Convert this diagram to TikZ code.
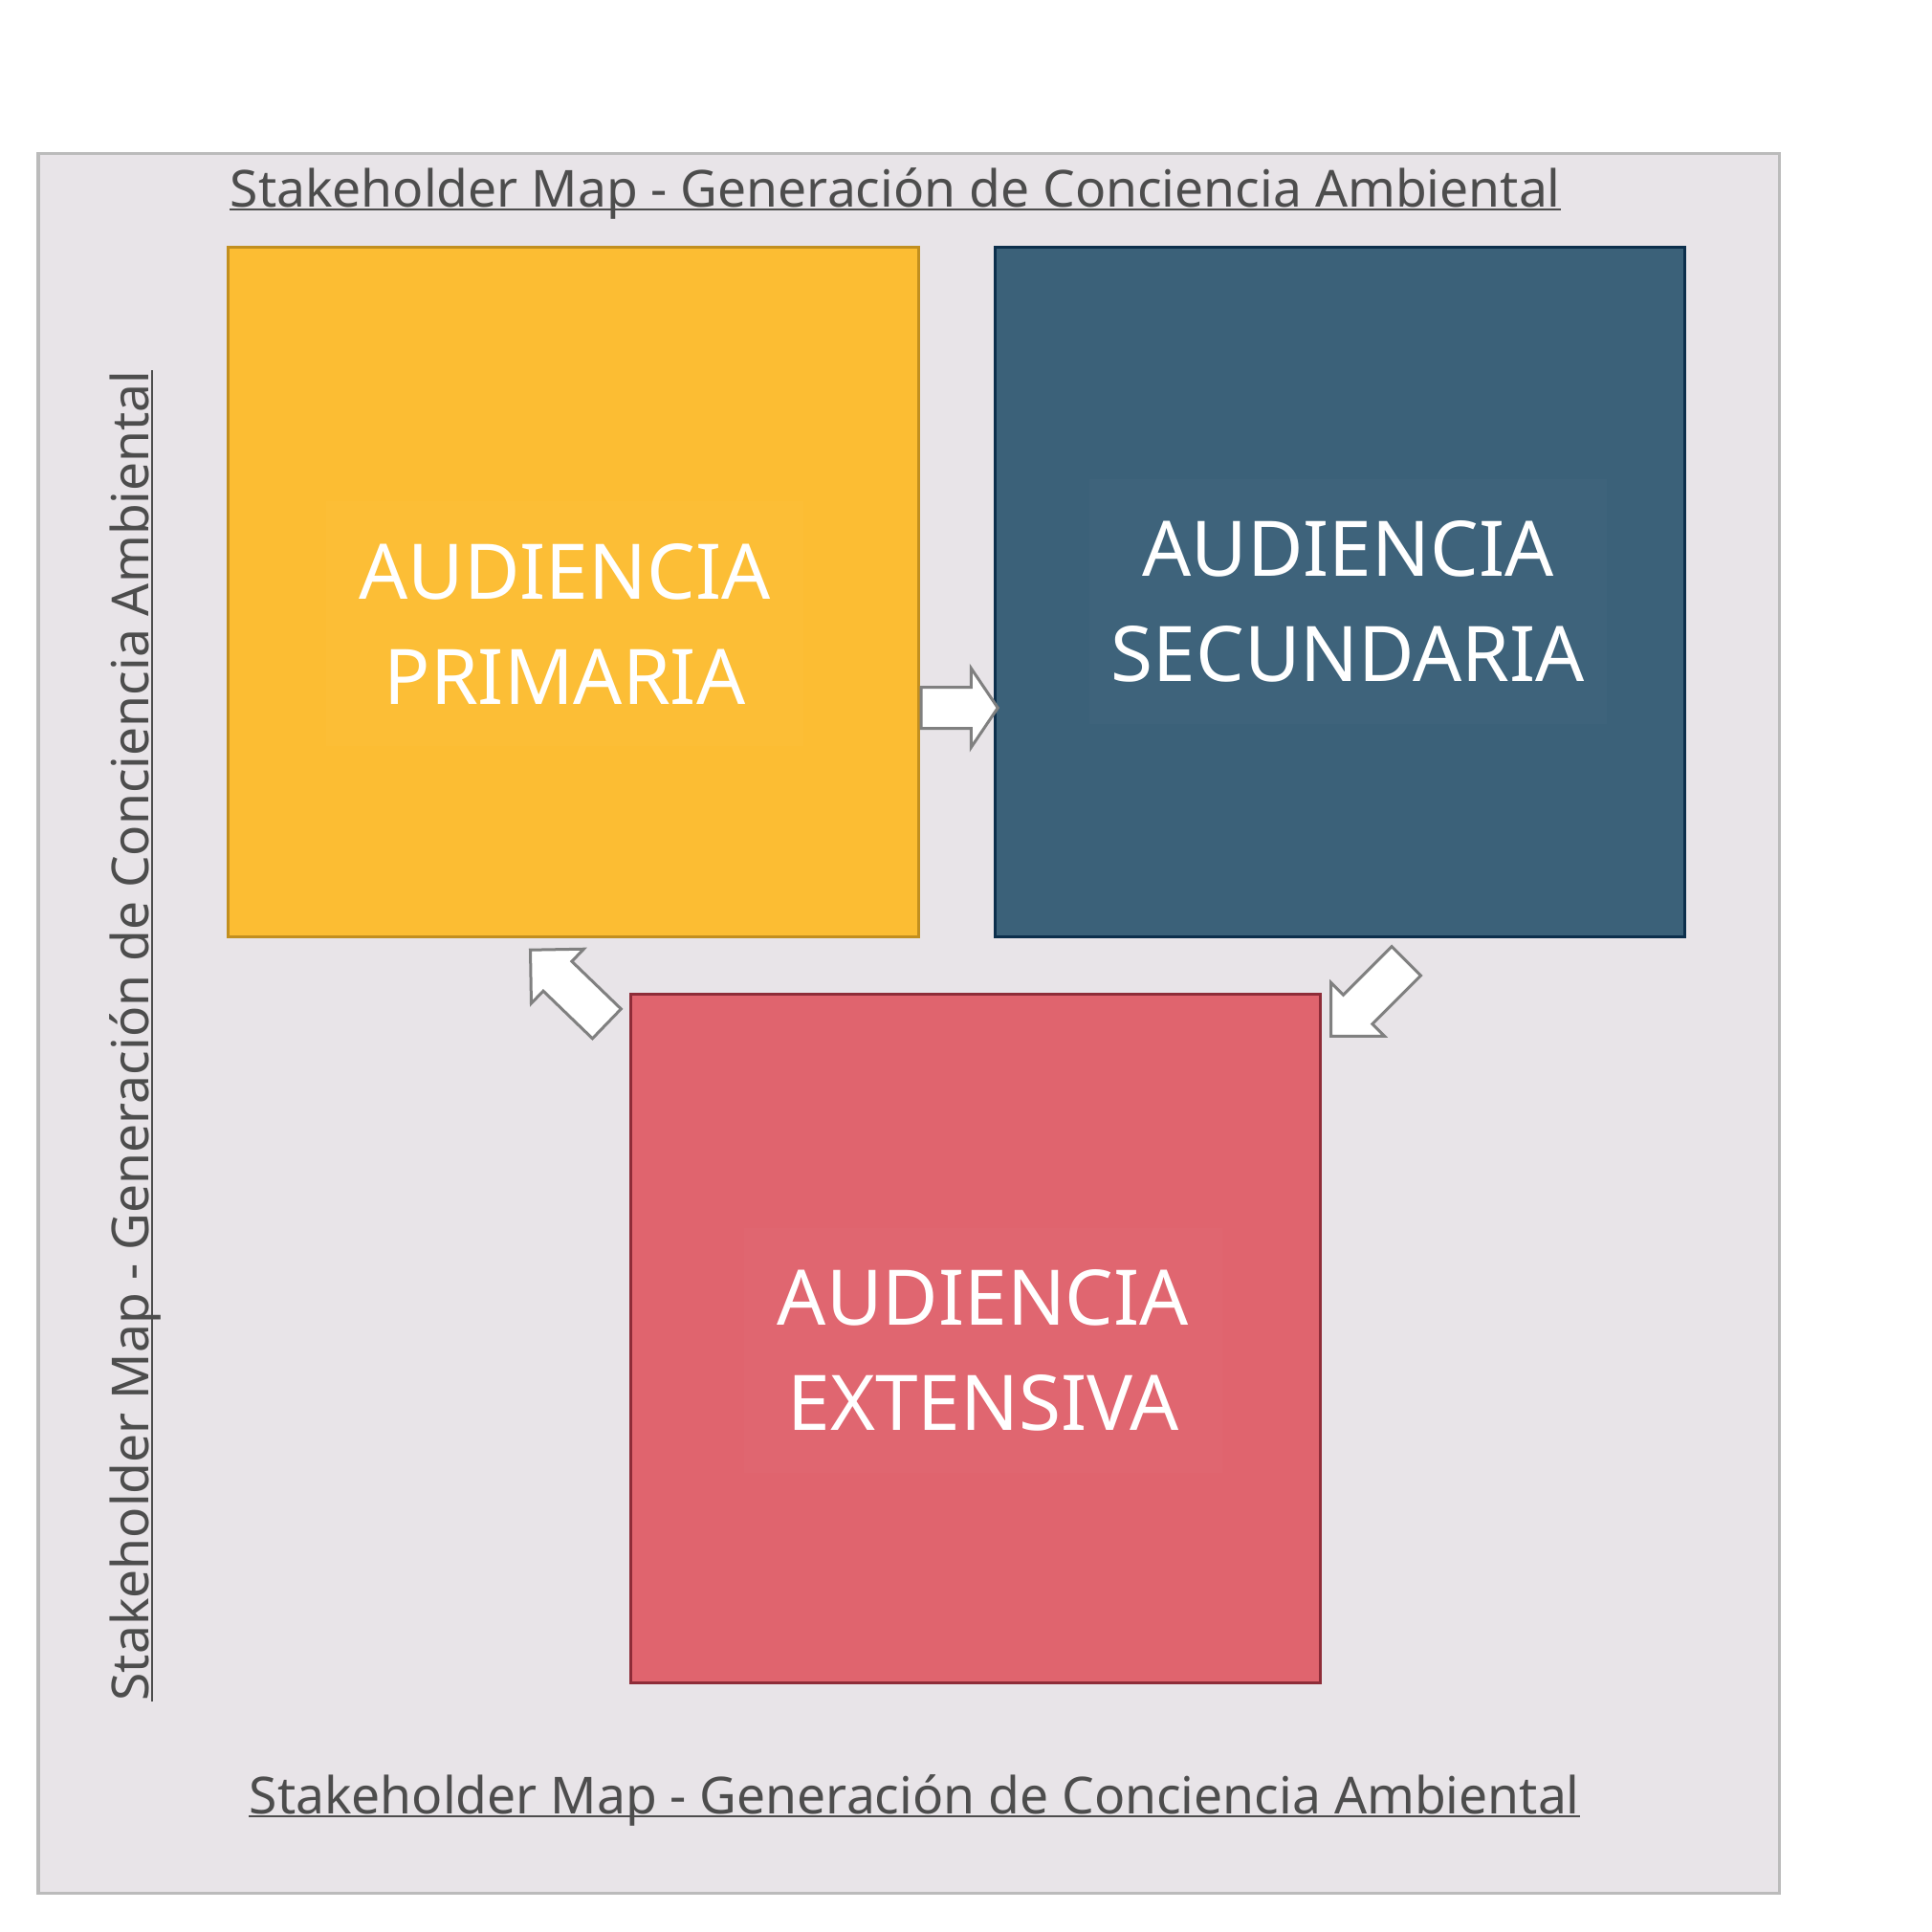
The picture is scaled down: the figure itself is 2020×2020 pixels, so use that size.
\documentclass[tikz,border=0pt]{standalone}
\usepackage{fontspec}
\setmainfont{Noto Sans}
\usetikzlibrary{shapes.arrows, positioning}

\definecolor{fondo}{HTML}{E8E4E8}
\definecolor{marcogris}{HTML}{BBBBBB}
\definecolor{tinta}{HTML}{4D4D4D}
\definecolor{amarillo}{HTML}{FCBD33}
\definecolor{amarilloborde}{HTML}{C28F1F}
\definecolor{azul}{HTML}{3B6179}
\definecolor{azulborde}{HTML}{0C2F4C}
\definecolor{rojo}{HTML}{E0646E}
\definecolor{rojoborde}{HTML}{8E2C38}
\definecolor{flechagris}{HTML}{808080}

\begin{document}
\begin{tikzpicture}[
        x=0.01cm, y=-0.01cm,
        marco/.style={draw=marcogris, fill=fondo, line width=0.03cm},
        caja/.style={draw, rectangle, line width=0.03cm, minimum width=7.21cm, minimum height=7.2cm, inner sep=0pt},
        etiqueta/.style={rectangle, fill=white, fill opacity=0.015, text opacity=1, text=white, align=center, minimum height=2.56cm, inner sep=0pt, font=\fontsize{22.8}{31.3}\selectfont},
        titulo/.style={inner sep=0pt, text=tinta, font=\fontsize{15.18}{18}\selectfont},
        subrayado/.style={draw=tinta, line width=0.02cm},
        flecha/.style={draw=flechagris, fill=white, single arrow, line width=0.03cm, inner xsep=0pt, inner ysep=0.2cm, minimum width=0pt, minimum height=1.11cm, single arrow head extend=0.18cm, single arrow tip angle=90}
    ]
    \useasboundingbox[fill=white] (0,0) rectangle (2020,2020);
    \draw[marco] (40,160) rectangle (1860,1979);

    % cuadrantes
    \node[caja, draw=amarilloborde, fill=amarillo] (primaria) at (599.5,619) {};
    \node[caja, draw=azulborde, fill=azul, right=0.77cm of primaria] (secundaria) {};
    \node[caja, draw=rojoborde, fill=rojo] (extensiva) at (1020,1399.5) {};

    \node[etiqueta, minimum width=4.99cm] (tprimaria) at (590.5,652) {AUDIENCIA\\PRIMARIA};
    \node[etiqueta, minimum width=5.41cm] (tsecundaria) at (1409.5,629) {AUDIENCIA\\SECUNDARIA};
    \node[etiqueta, minimum width=5.0cm] (textensiva) at (1028,1412) {AUDIENCIA\\EXTENSIVA};

    % flechas
    \node[flecha, anchor=tail, minimum height=0.8cm, single arrow head extend=0.2cm, single arrow tip angle=112] (f1) at ([yshift=-1.21cm]primaria.east) {};
    \node[flecha, anchor=tip, rotate=225] (f2) at ([shift={(0.08cm,-0.47cm)}]extensiva.north east) {};
    \node[flecha, anchor=tip, rotate=136] (f3) at ([shift={(-0.465cm,-0.11cm)}]primaria.south) {};

    % titulos
    \node[titulo, anchor=base west] (tsup) at (240,216) {Stakeholder Map - Generación de Conciencia Ambiental};
    \node[titulo, anchor=base west] (tinf) at (260,1896) {Stakeholder Map - Generación de Conciencia Ambiental};
    \node[titulo, anchor=base west, rotate=90] (tlat) at (156,1779) {Stakeholder Map - Generación de Conciencia Ambiental};
    \draw[subrayado] ([yshift=-0.03cm]tsup.base west) -- ([yshift=-0.03cm]tsup.base east);
    \draw[subrayado] ([yshift=-0.03cm]tinf.base west) -- ([yshift=-0.03cm]tinf.base east);
    \draw[subrayado] ([xshift=0.03cm]tlat.base west) -- ([xshift=0.03cm]tlat.base east);
\end{tikzpicture}
\end{document}
